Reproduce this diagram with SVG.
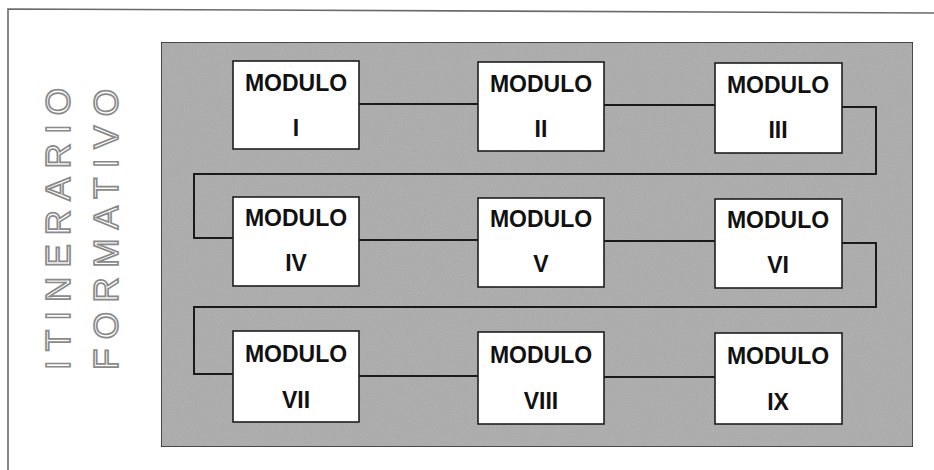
<svg xmlns="http://www.w3.org/2000/svg" width="934" height="470" viewBox="0 0 934 470">
<style>
.frame{fill:none;stroke:#6a6a6a;stroke-width:1.6}
.panel{fill:#b2b2b2;stroke:#2a2a2a;stroke-width:1.5}
.box{fill:#ffffff;stroke:#1e1e1e;stroke-width:1.6}
.lbl{font-family:"Liberation Sans",Arial,sans-serif;font-weight:bold;fill:#111;text-anchor:middle}
.t1{font-size:23px}
.t2{font-size:23px}
.conn{fill:none;stroke:#1a1a1a;stroke-width:2}
.vt{font-family:"Liberation Sans",Arial,sans-serif;font-size:35px;fill:#ffffff;stroke:#8a8a8a;stroke-width:1.7}
</style>
<defs>
<filter id="grain" x="0" y="0" width="100%" height="100%">
<feTurbulence type="fractalNoise" baseFrequency="0.9" numOctaves="2" seed="3" result="n"/>
<feColorMatrix in="n" type="matrix" values="0 0 0 0 0.55  0 0 0 0 0.55  0 0 0 0 0.55  0 0 0 0.3 0" result="g"/>
<feComposite in="g" in2="SourceGraphic" operator="in" result="gm"/>
<feBlend in="SourceGraphic" in2="gm" mode="multiply"/>
</filter>
</defs>
<g id="frame">
<path class="frame" d="M8,470 V9 L934,13"/>
</g>
<g id="title">
<text class="vt" transform="translate(70,370) rotate(-90)" x="0" y="0" textLength="282" lengthAdjust="spacing">ITINERARIO</text>
<text class="vt" transform="translate(118,370) rotate(-90)" x="0" y="0" textLength="281" lengthAdjust="spacing">FORMATIVO</text>
</g>
<g id="panel">
<rect class="panel" x="161" y="42" width="752" height="405" filter="url(#grain)"/>
</g>
<g id="connectors">
<path class="conn" d="M359,104 H478"/>
<path class="conn" d="M604,105 H715"/>
<path class="conn" d="M842,107 H876 V174 H194 V238 H233"/>
<path class="conn" d="M359,240 H478"/>
<path class="conn" d="M604,241 H715"/>
<path class="conn" d="M842,243 H876 V307 H194 V374 H233"/>
<path class="conn" d="M359,376 H478"/>
<path class="conn" d="M604,377 H715"/>
</g>
<g id="m1"><rect class="box" x="233" y="61" width="126" height="88"/><text class="lbl t1" x="296" y="91">MODULO</text><text class="lbl t2" x="296" y="136">I</text></g>
<g id="m2"><rect class="box" x="478" y="62" width="126" height="89"/><text class="lbl t1" x="541" y="92">MODULO</text><text class="lbl t2" x="541" y="137">II</text></g>
<g id="m3"><rect class="box" x="715" y="63" width="127" height="90"/><text class="lbl t1" x="778" y="93">MODULO</text><text class="lbl t2" x="778" y="138">III</text></g>
<g id="m4"><rect class="box" x="233" y="197" width="126" height="89"/><text class="lbl t1" x="296" y="226">MODULO</text><text class="lbl t2" x="296" y="271">IV</text></g>
<g id="m5"><rect class="box" x="478" y="198" width="126" height="89"/><text class="lbl t1" x="541" y="227">MODULO</text><text class="lbl t2" x="541" y="272">V</text></g>
<g id="m6"><rect class="box" x="715" y="199" width="127" height="89"/><text class="lbl t1" x="778" y="228">MODULO</text><text class="lbl t2" x="778" y="273">VI</text></g>
<g id="m7"><rect class="box" x="233" y="331" width="126" height="91"/><text class="lbl t1" x="296" y="362">MODULO</text><text class="lbl t2" x="296" y="408">VII</text></g>
<g id="m8"><rect class="box" x="478" y="332" width="126" height="92"/><text class="lbl t1" x="541" y="363">MODULO</text><text class="lbl t2" x="541" y="409">VIII</text></g>
<g id="m9"><rect class="box" x="715" y="333" width="127" height="91"/><text class="lbl t1" x="778" y="364">MODULO</text><text class="lbl t2" x="778" y="410">IX</text></g>
</svg>
